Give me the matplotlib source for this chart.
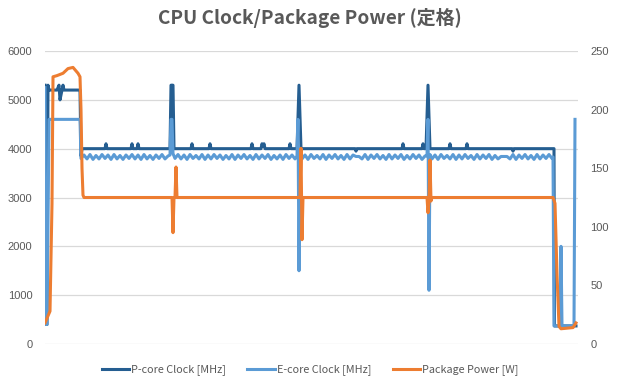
import numpy as np
import matplotlib
matplotlib.use("Agg")
import matplotlib.pyplot as plt
from matplotlib.lines import Line2D

plt.rcParams['font.family'] = ['Noto Sans CJK JP', 'DejaVu Sans']

# time axis in seconds (sample index)
p_core_pts = [(0, 5300), (1, 400), (2, 400), (3, 5300), (4, 5200), (12, 5200), (14, 5300),
              (15, 5000), (17, 5200), (18, 5300), (19, 5200), (35, 5200), (36, 3850), (37, 4000),
              (60, 4000), (61, 4100), (62, 4000), (86, 4000), (87, 4100), (88, 4000),
              (92, 4000), (93, 4100), (94, 4000), (125, 4000), (126, 5300), (128, 5300), (129, 4000),
              (146, 4000), (147, 4100), (148, 4000), (164, 4000), (165, 4100), (166, 4000),
              (206, 4000), (207, 4100), (208, 4000), (216, 4000), (217, 4100), (218, 4050),
              (219, 4100), (220, 4000), (244, 4000), (245, 4100), (246, 4000),
              (252, 4000), (254, 5300), (256, 4000), (310, 4000), (311, 3950), (312, 4000),
              (357, 4000), (358, 4100), (359, 4000), (377, 4000), (378, 4100), (379, 4000),
              (381, 4000), (383, 5300), (385, 4000), (404, 4000), (405, 4100), (406, 4000),
              (421, 4000), (422, 4100), (423, 4000), (467, 4000), (468, 3950), (469, 4000),
              (509, 4000), (509.5, 370), (531, 370)]

# E-core: ramp, spikes and tail
e_core_start = [(0, 5250), (1, 400), (2, 400), (4, 4600), (35, 4600), (36, 3800)]
e_spike_1 = [(125, 3870), (126, 4600), (127, 4600), (128, 3900)]
e_spike_2 = [(252, 3850), (253, 4600), (254, 1500), (255, 3880)]
e_spike_3 = [(382, 3850), (383, 4600), (384, 1100), (385, 3880)]
e_core_end = [(508, 3830), (509, 370), (515, 370), (516, 2000), (517, 370), (529, 370), (530, 4600)]
# E-core ripple, one value every 3 s
e_ripple_a = [3870, 3790, 3880, 3780, 3860, 3790, 3880, 3800, 3870, 3780, 3880, 3790, 3860, 3780,
              3870, 3800, 3880, 3790, 3870, 3780, 3880, 3790, 3860, 3780, 3870, 3800, 3880, 3790, 3850]
e_ripple_b = [3800, 3880, 3790, 3870, 3780, 3880, 3800, 3860, 3790, 3880, 3780, 3870, 3790, 3880,
              3800, 3870, 3780, 3860, 3790, 3880, 3780, 3870, 3800, 3880, 3790, 3860, 3780, 3880,
              3790, 3870, 3800, 3880, 3780, 3860, 3790, 3870, 3780, 3880, 3800, 3870, 3790]
e_ripple_c = [3790, 3870, 3780, 3880, 3800, 3860, 3790, 3880, 3780, 3870, 3800, 3880, 3790, 3860,
              3780, 3880, 3790, 3870, 3840, 3840, 3790, 3880, 3780, 3870, 3800, 3880, 3790, 3860,
              3780, 3880, 3790, 3870, 3800, 3880, 3780, 3860, 3790, 3880, 3800, 3870, 3780, 3850]
e_ripple_d = [3790, 3870, 3780, 3880, 3800, 3860, 3790, 3880, 3780, 3870, 3790, 3880, 3800, 3860,
              3780, 3880, 3790, 3870, 3800, 3880, 3780, 3860, 3790, 3840, 3840, 3840, 3790, 3880,
              3780, 3870, 3800, 3880, 3790, 3860, 3780, 3880, 3790, 3870, 3800, 3880, 3800]

power_pts = [(0, 18), (2, 22), (5, 28), (7, 120), (8, 228), (12, 229), (15, 230), (18, 231),
             (23, 235), (28, 236), (30, 234), (33, 231), (35, 228), (36, 200), (37, 150), (38, 127),
             (39, 125),
             (127, 125), (128, 95), (129, 125), (130, 125), (131, 151), (132, 125),
             (255, 125), (256, 167), (257, 89), (258, 125),
             (382, 125), (383, 112), (384, 122), (385, 157), (386, 122), (387, 125),
             (508, 125), (510, 120), (512, 60), (514, 15), (516, 13), (528, 14), (531, 18)]


def ripple(start, vals):
    return [(start + 3 * i, v) for i, v in enumerate(vals)]


e_core_pts = (e_core_start + ripple(39, e_ripple_a) + e_spike_1 + ripple(130, e_ripple_b)
              + e_spike_2 + ripple(257, e_ripple_c) + e_spike_3 + ripple(387, e_ripple_d)
              + e_core_end)

c_p = '#255E91'
c_e = '#5B9BD5'
c_w = '#ED7D31'
grey = '#595959'

fig = plt.figure(figsize=(6.2, 3.8), dpi=100)
ax = fig.add_axes([45 / 620, 36 / 380, 533 / 620, 293 / 380])

pt, pv = zip(*p_core_pts)
et, ev = zip(*e_core_pts)
wt, wv = zip(*power_pts)

ax.plot(pt, pv, color=c_p, lw=2.2, solid_joinstyle='round')
ax.plot(et, ev, color=c_e, lw=2.2, solid_joinstyle='round')
ax.set_xlim(0, 533)
ax.set_ylim(0, 6000)
ax.set_yticks(range(0, 6001, 1000))
ax.set_xticks([])
ax.grid(axis='y', color='#D9D9D9', lw=0.9)
ax.set_axisbelow(True)

ax2 = ax.twinx()
ax2.plot(wt, wv, color=c_w, lw=2.2, solid_joinstyle='round')
ax2.set_ylim(0, 250)
ax2.set_yticks(range(0, 251, 50))

for a in (ax, ax2):
    for s in a.spines.values():
        s.set_visible(False)
    a.tick_params(length=0, labelsize=8, labelcolor=grey, pad=9)
    for lab in a.get_yticklabels():
        lab.set_family('Liberation Sans')

fig.text(0.5, 1 - 18 / 380, 'CPU Clock/Package Power (定格)', ha='center', va='center',
         fontsize=13.7, fontweight='bold', color=grey)

handles = [Line2D([], [], color=c_p, lw=2.2), Line2D([], [], color=c_e, lw=2.2),
           Line2D([], [], color=c_w, lw=2.2)]
labels = ['P-core Clock [MHz]', 'E-core Clock [MHz]', 'Package Power [W]']
leg = fig.legend(handles, labels, loc='center', bbox_to_anchor=(310 / 620, 1 - 370 / 380),
                 ncol=3, frameon=False, fontsize=7.8, handlelength=2.5, handletextpad=0.2,
                 columnspacing=2.0, labelcolor=grey)

fig.savefig('out.png', dpi=100)
